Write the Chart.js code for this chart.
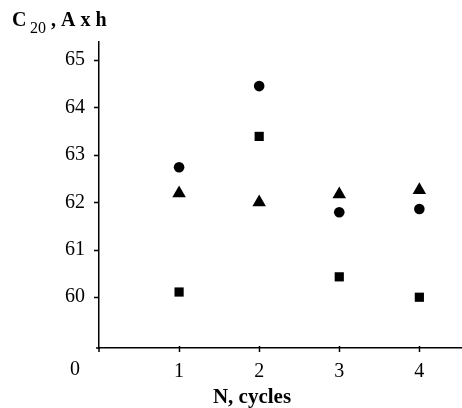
<!DOCTYPE html>
<html>
<head>
<meta charset="utf-8">
<script src="https://cdn.jsdelivr.net/npm/chart.js@4"></script>
<style>
  html, body { margin: 0; padding: 0; background: #fff; }
  #wrap { width: 462px; height: 408px; }
</style>
</head>
<body>
<div id="wrap"><canvas id="grafico" width="462" height="408"></canvas></div>
<script>
// ciclos en el eje x
const ciclos = [1, 2, 3, 4];
// capacidad C20 (A x h) por serie
const serieCirculos = [62.74, 64.45, 61.79, 61.86];
const serieCuadrados = [60.11, 63.39, 60.43, 60.0];
const serieTriangulos = [62.19, 62.0, 62.17, 62.26];
// marcas del eje y
const ticksY = [60, 61, 62, 63, 64, 65];
const ticksX = [1, 2, 3, 4];

const FUENTE = '"Liberation Serif", "Times New Roman", serif';

const puntos = (vals) => ciclos.map((c, i) => ({ x: c, y: vals[i] }));

// marcas de los ejes y textos extra: titulo del eje y, "0" y titulo del eje x
const textosExtra = {
  id: 'textosExtra',
  afterDraw(chart) {
    const ctx = chart.ctx;
    const sx = chart.scales.x;
    const sy = chart.scales.y;
    ctx.save();

    ctx.strokeStyle = '#000';
    ctx.lineWidth = 1.5;
    ctx.beginPath();
    ticksY.forEach(v => {
      const py = Math.round(sy.getPixelForValue(v)) + 0.5;
      ctx.moveTo(sx.left - 5, py);
      ctx.lineTo(sx.left, py);
    });
    ticksX.forEach(v => {
      const px = Math.round(sx.getPixelForValue(v)) + 0.5;
      ctx.moveTo(px, sy.bottom - 2);
      ctx.lineTo(px, sy.bottom + 4);
    });
    ctx.moveTo(sx.left - 3, sy.bottom);
    ctx.lineTo(sx.left, sy.bottom);
    ctx.moveTo(sx.left, sy.bottom);
    ctx.lineTo(sx.left, sy.bottom + 4);
    ctx.stroke();

    ctx.fillStyle = '#000';
    ctx.textBaseline = 'alphabetic';
    ctx.textAlign = 'left';
    ctx.font = 'bold 20px ' + FUENTE;
    ctx.fillText('C', 12, 26);
    ctx.font = '16px ' + FUENTE;
    ctx.fillText('20', 30, 33);
    ctx.font = 'bold 20px ' + FUENTE;
    ctx.fillText(', A x h', 51, 26);

    ctx.font = '20px ' + FUENTE;
    ctx.textAlign = 'center';
    ctx.textBaseline = 'middle';
    ctx.fillText('0', sx.left - 24, 370);

    ctx.font = 'bold 21px ' + FUENTE;
    ctx.textBaseline = 'alphabetic';
    ctx.fillText('N, cycles', 252, 403);
    ctx.restore();
  }
};

new Chart(document.getElementById('grafico').getContext('2d'), {
  type: 'scatter',
  data: {
    datasets: [
      {
        label: 'circulos',
        data: puntos(serieCirculos),
        pointStyle: 'circle',
        pointRadius: 5.3,
        backgroundColor: '#000',
        borderColor: '#000',
        borderWidth: 0
      },
      {
        label: 'cuadrados',
        data: puntos(serieCuadrados),
        pointStyle: 'rect',
        pointRadius: 6.5,
        backgroundColor: '#000',
        borderColor: '#000',
        borderWidth: 0
      },
      {
        label: 'triangulos',
        data: puntos(serieTriangulos),
        pointStyle: 'triangle',
        pointRadius: 7.8,
        backgroundColor: '#000',
        borderColor: '#000',
        borderWidth: 0
      }
    ]
  },
  options: {
    responsive: false,
    animation: false,
    devicePixelRatio: 1,
    layout: { autoPadding: false, padding: { top: 42, right: 1, left: 0, bottom: 0 } },
    plugins: {
      legend: { display: false },
      tooltip: { enabled: false }
    },
    scales: {
      x: {
        type: 'linear',
        min: 0,
        max: 4.52,
        afterBuildTicks: (s) => { s.ticks = ticksX.map(v => ({ value: v })); },
        afterFit: (s) => { s.height = 60; s.paddingRight = 0; s.paddingLeft = 0; },
        border: { display: true, color: '#000', width: 1.5 },
        grid: { display: false, drawTicks: true, tickLength: 5 },
        ticks: { color: '#000', padding: 7, maxRotation: 0, font: { family: FUENTE, size: 20 } }
      },
      y: {
        type: 'linear',
        min: 58.93,
        max: 65.38,
        afterBuildTicks: (s) => { s.ticks = ticksY.map(v => ({ value: v })); },
        afterFit: (s) => { s.width = 99; s.paddingTop = 0; s.paddingBottom = 0; },
        border: { display: true, color: '#000', width: 1.5 },
        grid: { display: false, drawTicks: true, tickLength: 5 },
        ticks: { color: '#000', padding: 9, font: { family: FUENTE, size: 20 } }
      }
    }
  },
  plugins: [textosExtra]
});
</script>
</body>
</html>
